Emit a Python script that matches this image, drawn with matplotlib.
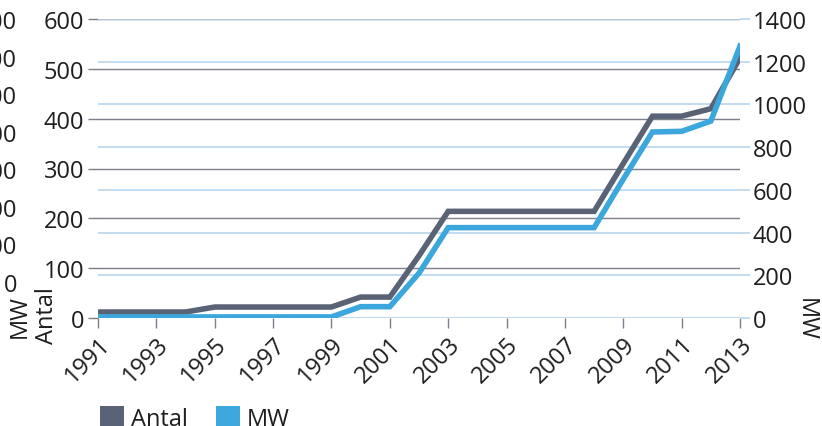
import numpy as np
import matplotlib
matplotlib.use('Agg')
import matplotlib.pyplot as plt
from matplotlib.patches import Patch

plt.rcParams['font.family'] = ['Open Sans', 'DejaVu Sans']

years = list(range(1991, 2014))
antal = [12, 12, 12, 12, 22, 22, 22, 22, 22, 42, 42, 125, 214, 214, 214, 214, 214, 214, 310, 405, 405, 420, 522]
mw = [5, 5, 5, 5, 5, 5, 5, 5, 5, 53, 53, 210, 423, 423, 423, 423, 423, 423, 650, 871, 874, 922, 1273]

year_ticks = list(range(1991, 2014, 2))
antal_ticks = [0, 100, 200, 300, 400, 500, 600]
mw_ticks = [0, 200, 400, 600, 800, 1000, 1200, 1400]

gray = '#5a6275'
blue = '#3ba7dc'
gridgray = '#7c7f8c'
gridblue = '#b8d6ee'
txt = '#1e1e1e'
fs = 17

fig = plt.figure(figsize=(8.22, 4.27), dpi=100)
ax = fig.add_axes([98/822, 1-319/427, 642/822, 299/427])
ax2 = ax.twinx()

ax.set_xlim(1991, 2013)
ax.set_ylim(0, 600)
ax2.set_ylim(0, 1400)

ax.set_yticks(antal_ticks)
ax.yaxis.grid(True, color=gridgray, linewidth=1.0)
ax.set_axisbelow(True)
ax2.set_yticks(mw_ticks)
ax2.yaxis.grid(True, color=gridblue, linewidth=1.2)
ax2.set_axisbelow(True)

# lines live on ax2 so they sit above both grids; Antal uses the left scale
ax2.plot(years, antal, color=gray, linewidth=4.0, transform=ax.transData,
         solid_joinstyle='miter', zorder=3)
ax2.plot(years, mw, color=blue, linewidth=4.0, solid_joinstyle='miter', zorder=4)

for a in (ax, ax2):
    for s in a.spines.values():
        s.set_visible(False)

ax.set_xticks(year_ticks)
ax.set_xticklabels([str(y) for y in year_ticks], rotation=45, ha='right',
                   va='top', rotation_mode='anchor', fontsize=fs, color=txt)
ax.tick_params(axis='x', length=7, width=1, color=gridgray, pad=3)
ax.tick_params(axis='y', length=7, width=1, color=gridgray, labelsize=fs,
               labelcolor=txt, pad=3)
ax2.tick_params(axis='y', length=7, width=1.2, color=gridblue, labelsize=fs,
                labelcolor=txt, pad=2)

# axis titles
fig.text(47/822, 1-316/427, 'Antal', rotation=90, fontsize=fs, ha='center', va='center', color=txt)
fig.text(806/822, 1-320/427, 'MW', rotation=270, fontsize=fs, ha='center', va='center', color=txt)

# cropped axis left over at the very left edge
ax3 = fig.add_axes([24/822, 1-283/427, 0.001, 263/427])
ax3.set_ylim(0, 1400)
ax3.set_yticks(mw_ticks)
ax3.set_xticks([])
ax3.tick_params(axis='y', length=0, labelsize=fs, labelcolor=txt, pad=5)
for s in ax3.spines.values():
    s.set_visible(False)
ax3.patch.set_visible(False)
fig.text(20/822, 1-317/427, 'MW', rotation=90, fontsize=fs, ha='center', va='center', color=txt)

handles = [Patch(facecolor=gray), Patch(facecolor=blue)]
fig.legend(handles, ['Antal', 'MW'], loc='lower left', bbox_to_anchor=(86/822, -0.045),
           ncol=2, frameon=False, fontsize=fs, handlelength=1.0, handleheight=1.0,
           handletextpad=0.3, columnspacing=1.2, borderpad=0.1, labelcolor=txt)

fig.savefig('out.png', dpi=100)
